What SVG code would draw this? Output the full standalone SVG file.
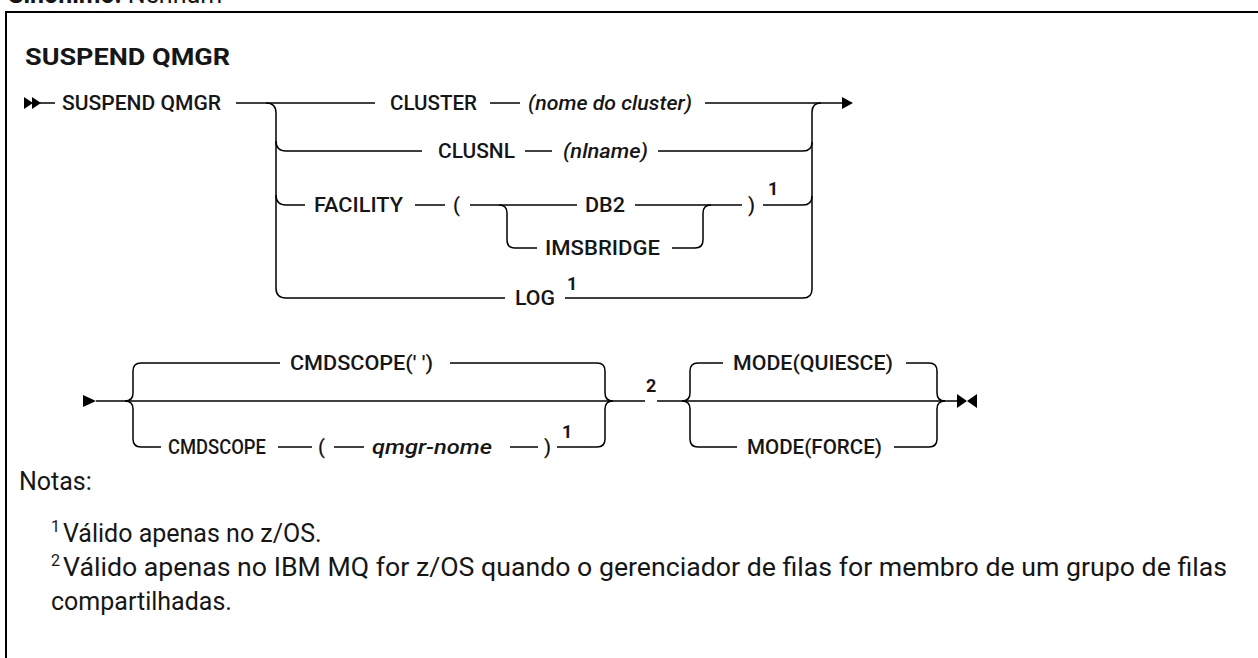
<svg xmlns="http://www.w3.org/2000/svg" width="1258" height="658" viewBox="0 0 1258 658">
<style>
.bg{fill:#ffffff}
.frame{fill:none;stroke:#000;stroke-width:2}
.ln{fill:none;stroke:#000;stroke-width:1.5}
.ah{fill:#000;stroke:none}
.kw{font-family:Roboto,"Liberation Sans",sans-serif;font-size:20px;font-weight:500;fill:#161616}
.var{font-family:Roboto,"Liberation Sans",sans-serif;font-size:20px;font-weight:500;font-style:italic;fill:#161616}
.sup{font-family:Roboto,"Liberation Sans",sans-serif;font-size:18px;font-weight:700;fill:#161616}
.title{font-family:Roboto,"Liberation Sans",sans-serif;font-size:24px;font-weight:700;fill:#161616}
.note{font-family:Roboto,"Liberation Sans",sans-serif;font-size:25px;font-weight:400;fill:#161616}
.nsup{font-family:Roboto,"Liberation Sans",sans-serif;font-size:16px;font-weight:400;fill:#161616}
</style>
<rect class="bg" x="0" y="0" width="1258" height="658"/>
<text class="note" x="8" y="3" font-size="26"><tspan font-weight="700">Sinônimo:</tspan> Nenhum</text>
<rect class="frame" x="6" y="12" width="1270" height="670"/>
<text class="title" x="25" y="65" textLength="205" lengthAdjust="spacingAndGlyphs">SUSPEND QMGR</text>

<g id="connectors">
  <!-- diagram 1 -->
  <path class="ah" d="M24 97 L33 103 L24 109 Z M32 97 L41 103 L32 109 Z"/>
  <path class="ln" d="M40 103 H55"/>
  <path class="ln" d="M236 103 H375"/>
  <path class="ln" d="M490 103 H520"/>
  <path class="ln" d="M705 103 H842"/>
  <path class="ah" d="M842 97 L853 103 L842 109 Z"/>
  <path class="ln" d="M266 103 Q276 103 276 113 V288 Q276 298 286 298 H505"/>
  <path class="ln" d="M276 141 Q276 151 286 151 H422"/>
  <path class="ln" d="M525 151 H552"/>
  <path class="ln" d="M658 151 H803 Q812 151 812 142"/>
  <path class="ln" d="M276 195 Q276 205 286 205 H305"/>
  <path class="ln" d="M415 205 H445"/>
  <path class="ln" d="M470 205 H577"/>
  <path class="ln" d="M635 205 H742"/>
  <path class="ln" d="M763 205 H803 Q812 205 812 196"/>
  <path class="ln" d="M499 205 Q507 205 507 213 V240 Q507 248 515 248 H537"/>
  <path class="ln" d="M672 248 H695 Q703 248 703 240 V213 Q703 205 711 205"/>
  <path class="ln" d="M565 298 H803 Q812 298 812 289 V112 Q812 103 821 103"/>
  <!-- diagram 2 -->
  <path class="ah" d="M83 395 L96 401 L83 407 Z"/>
  <path class="ln" d="M96 401 H645"/>
  <path class="ln" d="M125 401 Q133 401 133 393 V371 Q133 363 141 363 H280"/>
  <path class="ln" d="M125 401 Q133 401 133 409 V439 Q133 447 141 447 H161"/>
  <path class="ln" d="M278 447 H312"/>
  <path class="ln" d="M334 447 H364"/>
  <path class="ln" d="M510 447 H538"/>
  <path class="ln" d="M450 363 H597 Q605 363 605 371 V393 Q605 401 613 401"/>
  <path class="ln" d="M557 447 H597 Q605 447 605 439 V409 Q605 401 613 401"/>
  <path class="ln" d="M657 401 H957"/>
  <path class="ln" d="M682 401 Q690 401 690 393 V371 Q690 363 698 363 H723"/>
  <path class="ln" d="M682 401 Q690 401 690 409 V439 Q690 447 698 447 H737"/>
  <path class="ln" d="M906 363 H929 Q937 363 937 371 V393 Q937 401 945 401"/>
  <path class="ln" d="M894 447 H929 Q937 447 937 439 V409 Q937 401 945 401"/>
  <path class="ah" d="M957 394 L967 401 L957 408 Z M977 394 L967 401 L977 408 Z"/>
</g>

<g id="n-suspend"><text class="kw" x="62" y="110" textLength="159" lengthAdjust="spacingAndGlyphs">SUSPEND QMGR</text></g>
<g id="n-cluster"><text class="kw" x="390" y="110" textLength="87" lengthAdjust="spacingAndGlyphs">CLUSTER</text></g>
<g id="n-clustername"><text class="var" x="528" y="110" textLength="164" lengthAdjust="spacingAndGlyphs">(nome do cluster)</text></g>
<g id="n-clusnl"><text class="kw" x="438" y="158" textLength="77" lengthAdjust="spacingAndGlyphs">CLUSNL</text></g>
<g id="n-nlname"><text class="var" x="563" y="158" textLength="85" lengthAdjust="spacingAndGlyphs">(nlname)</text></g>
<g id="n-facility"><text class="kw" x="314" y="212" textLength="89" lengthAdjust="spacingAndGlyphs">FACILITY</text></g>
<g id="n-lparen1"><text class="kw" x="453" y="212">(</text></g>
<g id="n-db2"><text class="kw" x="585" y="212" textLength="40" lengthAdjust="spacingAndGlyphs">DB2</text></g>
<g id="n-imsbridge"><text class="kw" x="545" y="255" textLength="115" lengthAdjust="spacingAndGlyphs">IMSBRIDGE</text></g>
<g id="n-rparen1"><text class="kw" x="748" y="212">)</text></g>
<g id="n-note1a"><text class="sup" x="768" y="195">1</text></g>
<g id="n-log"><text class="kw" x="515" y="305" textLength="40" lengthAdjust="spacingAndGlyphs">LOG</text></g>
<g id="n-note1b"><text class="sup" x="567" y="290">1</text></g>

<g id="n-cmdscope-default"><text class="kw" x="290" y="370" textLength="143" lengthAdjust="spacingAndGlyphs">CMDSCOPE(' ')</text></g>
<g id="n-cmdscope"><text class="kw" x="168" y="454" textLength="98" lengthAdjust="spacingAndGlyphs">CMDSCOPE</text></g>
<g id="n-lparen2"><text class="kw" x="318" y="454">(</text></g>
<g id="n-qmgr"><text class="var" x="372" y="454" textLength="120" lengthAdjust="spacingAndGlyphs">qmgr-nome</text></g>
<g id="n-rparen2"><text class="kw" x="544" y="454">)</text></g>
<g id="n-note1c"><text class="sup" x="562" y="438">1</text></g>
<g id="n-note2"><text class="sup" x="646" y="392">2</text></g>
<g id="n-quiesce"><text class="kw" x="733" y="370" textLength="160" lengthAdjust="spacingAndGlyphs">MODE(QUIESCE)</text></g>
<g id="n-force"><text class="kw" x="747" y="454" textLength="135" lengthAdjust="spacingAndGlyphs">MODE(FORCE)</text></g>

<g id="notes">
  <text class="note" x="19" y="490">Notas:</text>
  <text class="nsup" x="51" y="532">1</text>
  <text class="note" x="63" y="542">Válido apenas no z/OS.</text>
  <text class="nsup" x="51" y="566">2</text>
  <text class="note" x="63" y="576" textLength="1164" lengthAdjust="spacingAndGlyphs">Válido apenas no IBM MQ for z/OS quando o gerenciador de filas for membro de um grupo de filas</text>
  <text class="note" x="51" y="610">compartilhadas.</text>
</g>
</svg>
